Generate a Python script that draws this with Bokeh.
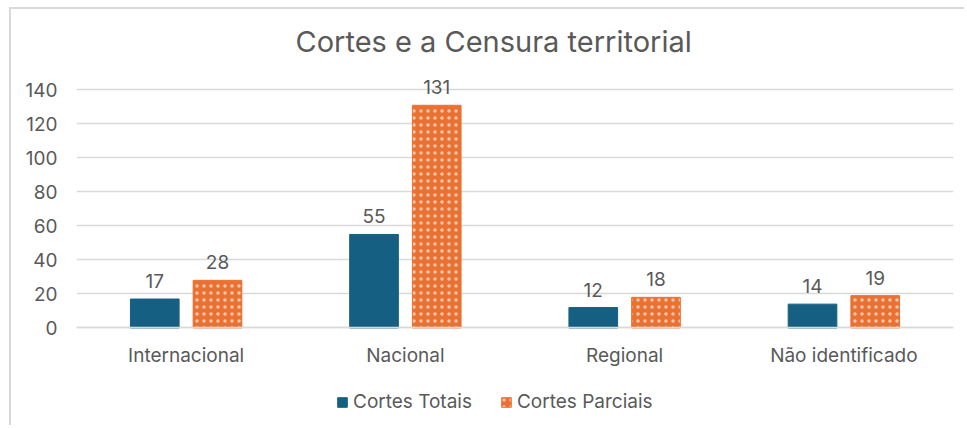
from bokeh.plotting import figure
from bokeh.models import FactorRange, Legend, LegendItem, ColumnDataSource, CategoricalAxis
from bokeh.transform import dodge
from bokeh.core.properties import value
from bokeh.embed import file_html
from bokeh.resources import INLINE

categories = ["Internacional", "Nacional", "Regional", "Não identificado"]
cortes_totais = [17, 55, 12, 14]
cortes_parciais = [28, 131, 18, 19]
series_names = ["Cortes Totais", "Cortes Parciais"]
y_ticks = [0, 20, 40, 60, 80, 100, 120, 140]
title_text = "Cortes e a Censura territorial"

BLUE = "#156082"
ORANGE = "#E97132"
GRAY = "#595959"
GRID = "#D9D9D9"
FONT = "Inter"

src = ColumnDataSource(dict(
    cat=categories,
    tot=cortes_totais,
    par=cortes_parciais,
    tot_lbl=[str(v) for v in cortes_totais],
    par_lbl=[str(v) for v in cortes_parciais],
))

p = figure(
    x_range=FactorRange(*categories, range_padding=0),
    y_range=(-58, 155),
    width=955, height=418,
    output_backend="svg", toolbar_location=None,
    x_axis_location=None,
    min_border_left=65, min_border_right=13,
    min_border_top=55, min_border_bottom=1,
    styles={"margin-left": "9px", "margin-top": "7px",
            "border-left": "2px solid #D9D9D9", "border-top": "2px solid #D9D9D9"},
)

p.title.text = title_text
p.title.align = "left"
p.title.offset = 219
p.title.text_font = FONT
p.title.text_font_size = "29px"
p.title.text_font_style = "normal"
p.title.text_color = GRAY
p.title.standoff = 11

bw = 0.222
off = 0.143
r1 = p.vbar(x=dodge("cat", -off, range=p.x_range), top="tot", bottom=0, width=bw, source=src,
            fill_color=BLUE, line_color=BLUE)
r2 = p.vbar(x=dodge("cat", off, range=p.x_range), top="par", bottom=0, width=bw, source=src,
            fill_color=ORANGE, line_color=ORANGE,
            hatch_pattern="dot", hatch_color="white", hatch_scale=7, hatch_weight=0.3,
            hatch_alpha=0.6)

for field, lbl, o in (("tot", "tot_lbl", -off), ("par", "par_lbl", off)):
    p.text(x=dodge("cat", o, range=p.x_range), y=field, text=lbl, source=src,
           text_align="center", text_baseline="bottom", y_offset=-11,
           text_font=value(FONT), text_font_size="19px", text_color=GRAY)

p.yaxis.ticker = y_ticks
p.yaxis.axis_line_color = None
p.yaxis.major_tick_line_color = None
p.yaxis.minor_tick_line_color = None
p.yaxis.major_tick_out = 0
p.yaxis.major_tick_in = 0
p.yaxis.major_label_text_font = FONT
p.yaxis.major_label_text_font_size = "19px"
p.yaxis.major_label_text_color = GRAY
p.yaxis.major_label_standoff = 19

xaxis = CategoricalAxis(fixed_location=0)
xaxis.axis_line_color = GRID
xaxis.axis_line_width = 1.5
xaxis.major_tick_line_color = None
xaxis.minor_tick_line_color = None
xaxis.major_tick_out = 0
xaxis.major_tick_in = 0
xaxis.major_label_text_font = FONT
xaxis.major_label_text_font_size = "19px"
xaxis.major_label_text_color = GRAY
xaxis.major_label_standoff = 16
p.add_layout(xaxis, "below")

p.xgrid.grid_line_color = None
p.ygrid.grid_line_color = GRID
p.ygrid.grid_line_width = 1.5
p.outline_line_color = None

legend = Legend(items=[LegendItem(label=series_names[0], renderers=[r1]),
                       LegendItem(label=series_names[1], renderers=[r2])],
                orientation="horizontal", location=(260, 13),
                label_text_font=FONT, label_text_font_size="19px", label_text_color=GRAY,
                glyph_width=12, glyph_height=12, spacing=28, label_standoff=5,
                border_line_color=None, background_fill_alpha=0, margin=0, padding=4)
p.add_layout(legend)

open("out.html", "w").write(file_html(p, INLINE))
